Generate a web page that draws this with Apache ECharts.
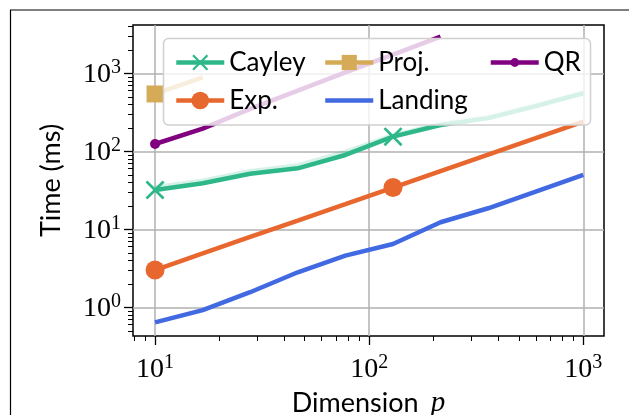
<!DOCTYPE html>
<html lang="en">
  <head>
    <meta charset="UTF-8" />
    <title>Time vs dimension</title>
    <script src="https://cdn.jsdelivr.net/npm/echarts@6/dist/echarts.min.js"></script>
    <style>
      * {
        margin: 0;
        padding: 0;
      }
      body {
        background: #fff;
      }
      #chart {
        width: 629px;
        height: 415px;
      }
    </style>
  </head>
  <body>
    <div id="chart"></div>
    <script>
      // dimensions p (log-spaced)
      const dims = [10, 16.7, 27.8, 46.4, 77.4, 129.2, 215.4, 359.4, 599.5, 1000];

      // times in ms
      const cayley = [31.9, 39, 51.5, 60.5, 89.7, 154, 217, 266, 379, 554];
      const cayleyFaint = [34.5, 42, 55.5, 66, 98, 160, 226, 278, 392, 570];
      const proj = [543, 889];
      const qr = [124, 195, 350, 600, 1030, 1740, 2946];
      const expm = [3.0, 4.9, 8.0, 12.9, 21.0, 34.3, 55.7, 90.6, 147, 240];
      const landing = [0.64, 0.92, 1.56, 2.81, 4.59, 6.48, 12.3, 18.6, 30.3, 49.7];

      const xMajor = [10, 100, 1000];
      const yMajor = [1, 10, 100, 1000];
      const xMinor = [8, 9, 20, 30, 40, 50, 60, 70, 80, 90, 200, 300, 400, 500, 600, 700, 800, 900];
      const yMinor = [0.5, 0.6, 0.7, 0.8, 0.9, 2, 3, 4, 5, 6, 7, 8, 9, 20, 30, 40, 50, 60, 70, 80, 90,
        200, 300, 400, 500, 600, 700, 800, 900, 2000, 3000, 4000];

      const xMin = 7.89, xMax = 1249;
      const yMin = 0.4285, yMax = 4159;

      const chart = echarts.init(document.getElementById("chart"));

      const sansFont = "Lato";
      const crossPath = "path://M2,0L10,8L18,0L20,2L12,10L20,18L18,20L10,12L2,20L0,18L8,10L0,2Z";
      const lineW = 4.5;

      // markers only on some points (markevery-like)
      const pts = (ys, every) =>
        ys.map((y, i) => (i % every === 0 ? [dims[i], y] : { value: [dims[i], y], symbol: "none" }));

      const powLabel = (v) => "{b|10}{s|" + Math.round(Math.log10(v)) + "}";
      const labelRich = {
        b: { fontFamily: "Liberation Serif", fontSize: 28, color: "#000", verticalAlign: "bottom" },
        s: { fontFamily: "Liberation Serif", fontSize: 20, color: "#000", verticalAlign: "bottom", padding: [0, 0, 11, 0] },
      };

      const mkLegend = (name, left, top, itemHeight, extra) =>
        Object.assign(
          {
            data: [name],
            left: left,
            top: top,
            padding: 0,
            itemWidth: 48,
            itemHeight: itemHeight,
            itemGap: 0,
            z: 5,
            selectedMode: false,
            lineStyle: { width: lineW },
            textStyle: { fontFamily: sansFont, fontSize: 26, color: "#000" },
          },
          extra || {}
        );

      const option = {
        animation: false,
        backgroundColor: "#fff",
        grid: {
          left: 133,
          right: 25,
          top: 25,
          bottom: 79,
          outerBoundsMode: "none",
          containLabel: false,
          show: true,
          borderColor: "#000",
          borderWidth: 1.5,
          backgroundColor: "transparent",
        },
        graphic: {
          elements: [
            { type: "line", shape: { x1: 10, y1: 10, x2: 629, y2: 10 }, style: { stroke: "#000", lineWidth: 1.2 } },
            { type: "line", shape: { x1: 10.5, y1: 10, x2: 10.5, y2: 415 }, style: { stroke: "#000", lineWidth: 1.2 } },
            {
              type: "rect",
              z: 3,
              shape: { x: 163.5, y: 38.5, width: 427, height: 86.5, r: 5 },
              style: { fill: "rgba(255,255,255,0.8)", stroke: "#d0d0d0", lineWidth: 1.5 },
            },
          ],
        },
        legend: [
          mkLegend("Cayley", 174, 49.5, 20),
          mkLegend("Exp.", 174, 87.5, 22),
          mkLegend("Proj.", 323, 49.5, 19),
          mkLegend("Landing", 323, 87.5, 20, { itemStyle: { opacity: 0 } }),
          mkLegend("QR", 488.5, 49.5, 11),
        ],
        xAxis: [
          {
            type: "log",
            logBase: 10,
            min: xMin,
            max: xMax,
            position: "bottom",
            name: "{t|Dimension}{p|p}",
            nameLocation: "middle",
            nameGap: 50,
            nameTextStyle: {
              rich: {
                t: { fontFamily: sansFont, fontSize: 27, color: "#000" },
                p: { fontFamily: "Liberation Serif", fontStyle: "italic", fontSize: 29, color: "#000", padding: [0, 0, 0, 12] },
              },
            },
            axisLine: { show: false },
            axisTick: { show: true, length: 9, lineStyle: { color: "#000", width: 1.3 }, customValues: xMajor },
            axisLabel: { margin: 17, customValues: xMajor, formatter: powLabel, rich: labelRich },
            splitLine: { show: true, lineStyle: { color: "#b0b0b0", width: 1.5 } },
            minorTick: { show: false },
          },
          {
            type: "log",
            logBase: 10,
            min: xMin,
            max: xMax,
            position: "bottom",
            axisLine: { show: false },
            axisTick: { show: true, length: 5, lineStyle: { color: "#000", width: 1 }, customValues: xMinor },
            axisLabel: { show: false },
            splitLine: { show: false },
          },
        ],
        yAxis: [
          {
            type: "log",
            logBase: 10,
            min: yMin,
            max: yMax,
            position: "left",
            name: "Time (ms)",
            nameLocation: "middle",
            nameRotate: 90,
            nameGap: 68,
            nameTextStyle: { fontFamily: sansFont, fontSize: 27, color: "#000" },
            axisLine: { show: false },
            axisTick: { show: true, length: 9, lineStyle: { color: "#000", width: 1.3 }, customValues: yMajor },
            axisLabel: { margin: 12, customValues: yMajor, formatter: powLabel, rich: labelRich },
            splitLine: { show: true, lineStyle: { color: "#b0b0b0", width: 1.5 } },
          },
          {
            type: "log",
            logBase: 10,
            min: yMin,
            max: yMax,
            position: "left",
            axisLine: { show: false },
            axisTick: { show: true, length: 5, lineStyle: { color: "#000", width: 1 }, customValues: yMinor },
            axisLabel: { show: false },
            splitLine: { show: false },
          },
        ],
        series: [
          {
            name: "Cayley2",
            type: "line",
            data: cayleyFaint.map((y, i) => [dims[i], y]),
            showSymbol: false,
            lineStyle: { color: "#2eb88a", width: lineW, opacity: 0.2 },
            itemStyle: { color: "#2eb88a" },
            z: 2,
          },
          {
            name: "Cayley",
            type: "line",
            data: pts(cayley, 5),
            symbol: crossPath,
            symbolSize: 19,
            lineStyle: { color: "#2eb88a", width: lineW },
            itemStyle: { color: "#2eb88a" },
            z: 2,
          },
          {
            name: "Proj.",
            type: "line",
            data: pts(proj, 5),
            symbol: "rect",
            symbolSize: 17,
            lineStyle: { color: "#d6ab58", width: lineW },
            itemStyle: { color: "#d6ab58" },
            z: 2,
          },
          {
            name: "QR",
            type: "line",
            data: pts(qr, 10),
            symbol: "circle",
            symbolSize: 10,
            lineStyle: { color: "#800080", width: lineW },
            itemStyle: { color: "#800080" },
            z: 2,
          },
          {
            name: "Exp.",
            type: "line",
            data: pts(expm, 5),
            symbol: "circle",
            symbolSize: 19,
            lineStyle: { color: "#e8672e", width: lineW },
            itemStyle: { color: "#e8672e" },
            z: 2,
          },
          {
            name: "Landing",
            type: "line",
            data: landing.map((y, i) => [dims[i], y]),
            showSymbol: false,
            symbol: "none",
            lineStyle: { color: "#4169e1", width: lineW },
            itemStyle: { color: "#4169e1" },
            z: 2,
          },
        ],
      };

      chart.setOption(option);
    </script>
  </body>
</html>
